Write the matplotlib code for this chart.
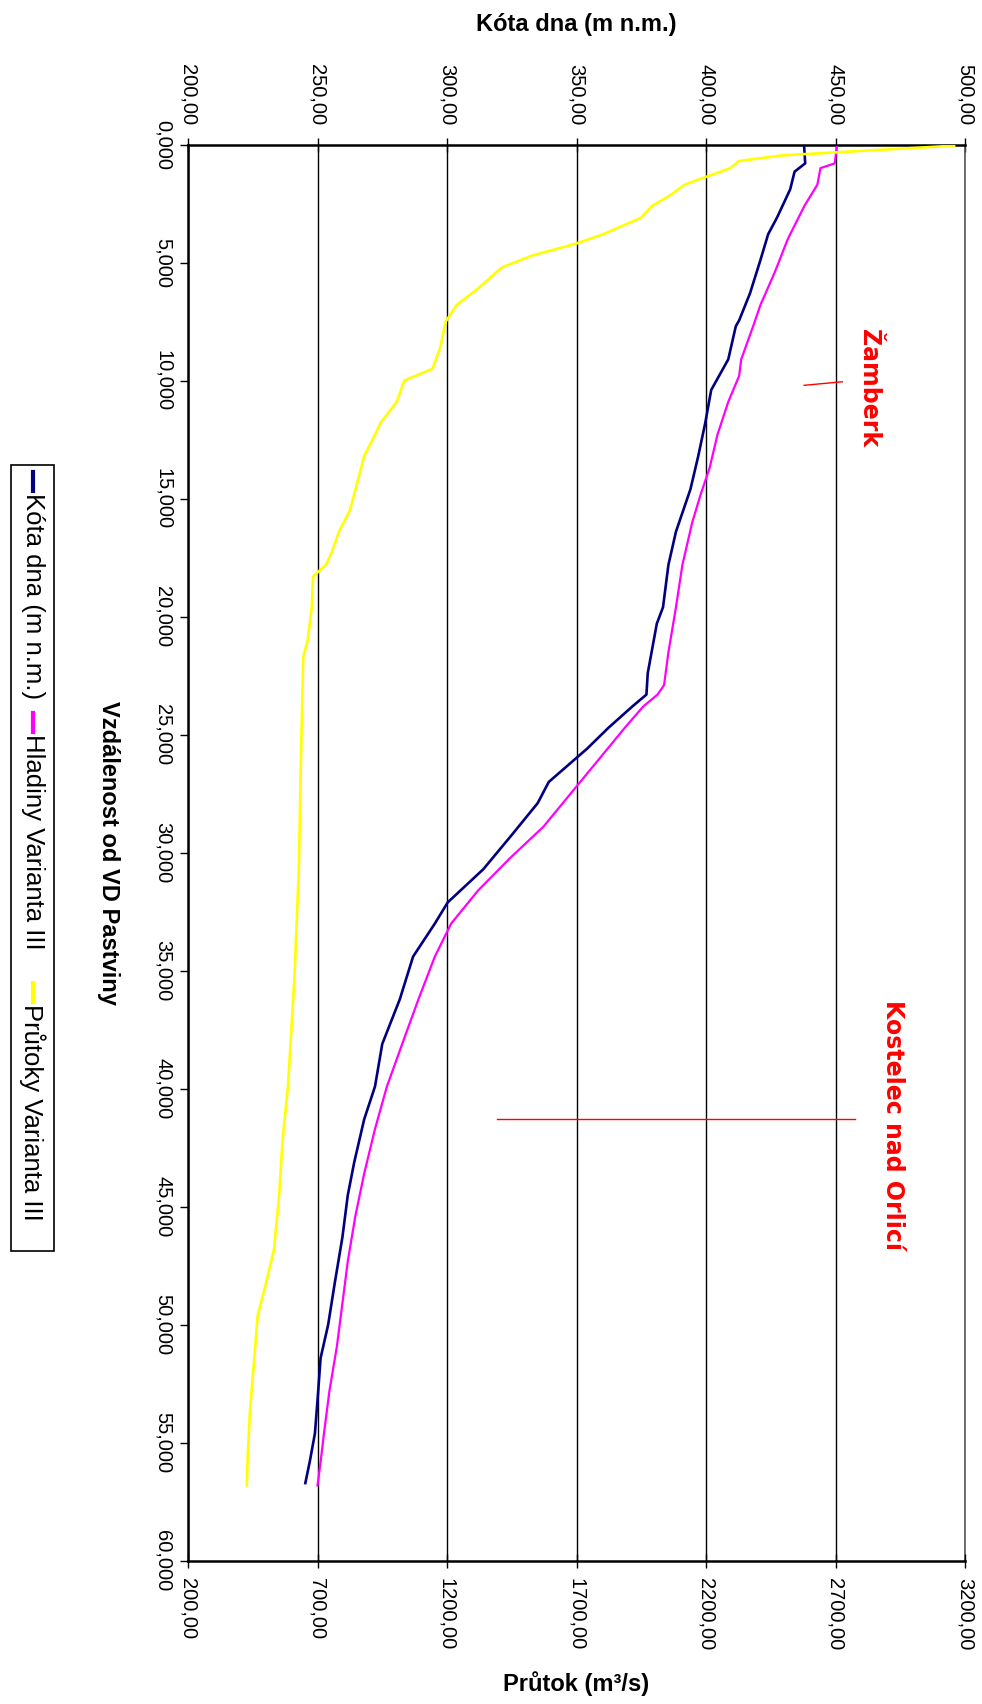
import numpy as np
import matplotlib
matplotlib.use("Agg")
import matplotlib.pyplot as plt
from matplotlib.lines import Line2D
from matplotlib.patches import Rectangle

# Kóta dna (m n.m.) podél toku
dist_dno = [0.1, 0.8, 1.15, 1.9, 3.1, 3.8, 4.9, 6.3, 7.45, 7.7, 9.1, 10.4, 11.8, 13.2, 14.6,
            16.4, 17.8, 19.6, 20.3, 21.5, 22.4, 23.3, 23.8, 24.7, 25.6, 27.0, 27.9, 29.3,
            30.7, 32.1, 33.0, 34.4, 36.2, 38.1, 39.9, 41.3, 43.1, 44.5, 46.3, 48.2, 50.0,
            51.4, 53.2, 54.6, 55.8, 56.7]
kota_dna = [437.9, 438.3, 434.2, 432.5, 427.4, 424.0, 421.0, 417.0, 412.8, 411.5, 408.6, 402.0,
            399.7, 397.0, 394.0, 388.4, 385.5, 383.4, 381.0, 379.0, 377.5, 377.0, 371.6, 362.4,
            354.0, 339.3, 335.0, 324.6, 314.0, 300.3, 295.3, 286.9, 281.8, 275.0, 272.2, 268.0,
            264.2, 261.7, 259.6, 256.7, 254.1, 251.2, 250.0, 249.0, 247.0, 245.3]

# Hladiny Varianta III
dist_hl = [0.1, 0.8, 1.0, 1.7, 2.6, 4.0, 5.4, 6.8, 7.7, 9.1, 9.8, 10.9, 12.3, 13.7, 14.8, 16.0,
           17.8, 19.6, 21.5, 22.9, 23.3, 23.8, 24.7, 26.1, 27.5, 28.9, 30.2, 31.6, 33.0, 34.4,
           36.2, 38.1, 39.9, 41.7, 43.6, 45.4, 47.3, 49.1, 50.9, 52.8, 54.6, 55.8, 56.8]
hladiny = [450.5, 449.7, 444.2, 443.0, 438.0, 431.6, 426.6, 421.0, 418.2, 413.6, 412.8, 408.6,
           404.4, 401.4, 398.0, 394.7, 390.9, 388.4, 385.5, 383.8, 381.3, 375.8, 368.7, 358.2,
           347.7, 337.2, 324.6, 312.0, 301.6, 295.3, 289.0, 282.7, 276.8, 272.2, 268.0, 264.6,
           261.7, 259.6, 257.5, 254.6, 252.5, 251.2, 250.0]

# Průtoky Varianta III (m3/s)
dist_q = [0.05, 0.2, 0.46, 0.7, 1.0, 1.4, 1.7, 2.2, 2.6, 3.1, 3.3, 3.8, 4.2, 4.7, 5.2, 5.4, 6.1,
          6.8, 7.5, 8.6, 9.5, 10.0, 10.9, 11.8, 12.3, 13.2, 14.1, 15.5, 16.4, 17.3, 17.8, 18.3,
          19.6, 21.0, 21.7, 26.1, 30.7, 35.3, 39.9, 42.2, 44.5, 46.8, 48.2, 49.6, 51.4, 53.7,
          55.5, 56.8]
prutoky = [3158, 2915, 2495, 2327, 2294, 2193, 2118, 2055, 1992, 1950, 1908, 1803, 1698, 1530,
           1413, 1392, 1320, 1237, 1195, 1174, 1144, 1035, 1006, 943, 922, 880, 859, 825, 783,
           754, 733, 683, 678, 662, 645, 636, 628, 611, 586, 565, 552, 532, 502, 469, 456, 439,
           431, 427]

kota_ticks = [200, 250, 300, 350, 400, 450, 500]
q_ticks = [200, 700, 1200, 1700, 2200, 2700, 3200]
dist_ticks = [0, 5, 10, 15, 20, 25, 30, 35, 40, 45, 50, 55, 60]

W, H = 982, 1704
plt.rcParams['font.family'] = ['Liberation Sans', 'DejaVu Sans']

fig = plt.figure(figsize=(W / 100, H / 100), dpi=100)
fig.patch.set_facecolor('white')

# graf je otočený o 90°: vzdálenost svisle, kóty vodorovně
L, R, T, B = 188, 965, 144.5, 1561
ax = fig.add_axes([L / W, 1 - B / H, (R - L) / W, (B - T) / H])
ax2 = ax.twiny()

ax.set_xlim(200, 500)
ax.set_ylim(60, 0)
ax.plot(kota_dna, dist_dno, color='#000080', lw=1.9, zorder=3)
ax.plot(hladiny, dist_hl, color='#FF00FF', lw=1.6, zorder=3)

ax.xaxis.set_ticks_position('top')
ax.set_xticks(kota_ticks)
ax.set_xticklabels([f"{v:.2f}".replace('.', ',') for v in kota_ticks])
ax.tick_params(axis='x', direction='inout', length=10, width=1, labelsize=14.5, pad=9,
               labelrotation=-90)
ax.set_yticks(dist_ticks)
ax.set_yticklabels([f"{v:.3f}".replace('.', ',') for v in dist_ticks])
ax.tick_params(axis='y', direction='out', length=6, width=1, labelsize=14.5, pad=5)
plt.setp(ax.get_yticklabels(), rotation=-90, va='center', ha='right')
ax.grid(axis='x', color='black', lw=1)
ax.set_axisbelow(True)
for side in ['top', 'left']:
    ax.spines[side].set_linewidth(1.8)
ax.spines['right'].set_linewidth(1.2)
ax.spines['right'].set_color('#555555')
ax.spines['bottom'].set_visible(False)

ax2.set_xlim(200, 3200)
ax2.plot(prutoky, dist_q, color='#FFFF00', lw=1.9, zorder=3)
ax2.xaxis.set_ticks_position('bottom')
ax2.xaxis.set_label_position('bottom')
ax2.set_xticks(q_ticks)
ax2.set_xticklabels([f"{v:.2f}".replace('.', ',') for v in q_ticks])
ax2.tick_params(axis='x', direction='inout', length=10, width=1, labelsize=14.5, pad=7,
                labelrotation=-90)
for side in ['top', 'left', 'right']:
    ax2.spines[side].set_visible(False)
ax2.spines['bottom'].set_linewidth(1.8)

# popisky obcí
ax.plot([437.9, 452.6], [10.2, 10.05], color='red', lw=1)
ax.plot([319.2, 457.7], [41.27, 41.27], color='red', lw=1)
RED_FONT = dict(color='red', rotation=-90, fontweight='heavy', fontsize=17,
                family=['DejaVu Sans'], ha='center', va='center')
fig.text(869 / W, 1 - 388 / H, 'Žamberk', **RED_FONT)
fig.text(893 / W, 1 - 1125 / H, 'Kostelec nad Orlicí', **RED_FONT)

# názvy os
fig.text(576 / W, 1 - 24 / H, 'Kóta dna (m n.m.)', fontsize=17, fontweight='bold',
         ha='center', va='center')
fig.text(576 / W, 1 - 1684 / H, 'Průtok (m³/s)', fontsize=17, fontweight='bold',
         ha='center', va='center')
fig.text(108.6 / W, 1 - 853 / H, 'Vzdálenost od VD Pastviny', fontsize=17,
         fontweight='bold', rotation=-90, ha='center', va='center')

# legenda (svisle)
fig.add_artist(Rectangle((10.9 / W, 1 - 1251 / H), 43.4 / W, 786 / H, transform=fig.transFigure,
                         facecolor='white', edgecolor='black', lw=1.2))
legend_items = [('Kóta dna (m n.m.)', '#000080', 472),
                ('Hladiny Varianta III', '#FF00FF', 713),
                ('Průtoky Varianta III', '#FFFF00', 983)]
for name, col, y0 in legend_items:
    fig.add_artist(Line2D([32.6 / W, 32.6 / W], [1 - y0 / H, 1 - (y0 + 19) / H],
                          transform=fig.transFigure, color=col, lw=3))
    fig.text(32.6 / W, 1 - (y0 + 21) / H, name, fontsize=18.5,
             rotation=-90, ha='center', va='top')

fig.savefig('out.png', dpi=100, facecolor='white')
